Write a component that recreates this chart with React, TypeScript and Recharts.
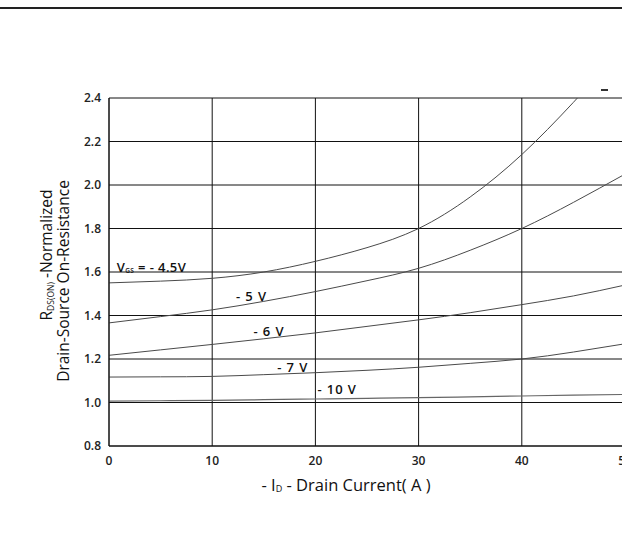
import { LineChart, Line, XAxis, YAxis, CartesianGrid, ReferenceDot, Label } from "recharts";

const current = [0, 5, 10, 15, 20, 25, 30, 35, 40, 45, 50];
const vgs45 = [1.55, 1.558, 1.571, 1.6, 1.649, 1.712, 1.8, 1.945, 2.14, 2.38, 2.64];
const vgs5 = [1.366, 1.395, 1.426, 1.465, 1.51, 1.56, 1.617, 1.7, 1.8, 1.92, 2.05];
const vgs6 = [1.217, 1.242, 1.267, 1.293, 1.32, 1.35, 1.38, 1.413, 1.45, 1.49, 1.54];
const vgs7 = [1.117, 1.118, 1.12, 1.128, 1.137, 1.148, 1.162, 1.18, 1.2, 1.232, 1.27];
const vgs10 = [1.006, 1.008, 1.01, 1.013, 1.016, 1.019, 1.022, 1.026, 1.03, 1.034, 1.037];

const xTicks = [0, 10, 20, 30, 40, 50];
const yTicks = [0.8, 1.0, 1.2, 1.4, 1.6, 1.8, 2.0, 2.2, 2.4];

// curve labels: [text, x, y] in data units
const curveLabels: [string, number, number][] = [
  ["4.5", 0.75, 1.623],
  ["- 5 V", 12.3, 1.49],
  ["- 6 V", 14.0, 1.329],
  ["- 7 V", 16.3, 1.163],
  ["- 10 V", 20.2, 1.062],
];

const data = current.map((c, i) => ({
  id: c,
  v45: vgs45[i],
  v5: vgs5[i],
  v6: vgs6[i],
  v7: vgs7[i],
  v10: vgs10[i],
}));

const font = "'Open Sans', 'Liberation Sans', sans-serif";
const curveColor = "#4a4a4a";

function CurveLabel({ viewBox, value }: any) {
  const { x, y } = viewBox;
  if (value === "4.5") {
    return (
      <text x={x} y={y} dominantBaseline="central" fontFamily={font} fontSize={13} fontWeight={600} fill="#111" letterSpacing={0.4}>
        V<tspan fontSize={6.5} dy={3}>GS</tspan>
        <tspan dy={-3}>{"  = - 4.5V"}</tspan>
      </text>
    );
  }
  return (
    <text x={x} y={y} dominantBaseline="central" fontFamily={font} fontSize={13} fontWeight={600} fill="#111" letterSpacing={0.9}>
      {value}
    </text>
  );
}

function YTitle() {
  return (
    <g fontFamily={font} fontSize={15.5} fill="#111">
      <text x={46} y={255} textAnchor="middle" dominantBaseline="central" transform="rotate(-90 46 255)">
        R<tspan fontSize={8.5} dy={4}>DS(ON)</tspan>
        <tspan dy={-4}>{"   -Normalized"}</tspan>
      </text>
      <text x={63} y={281} textAnchor="middle" dominantBaseline="central" transform="rotate(-90 63 281)">
        Drain-Source On-Resistance
      </text>
    </g>
  );
}

function XTitle() {
  return (
    <text x={346} y={484} textAnchor="middle" dominantBaseline="central" fontFamily={font} fontSize={16.5} fill="#111">
      - I<tspan fontSize={9} dy={4}>D</tspan>
      <tspan dy={-4}> - Drain Current( A )</tspan>
    </text>
  );
}

export default function App() {
  return (
    <div style={{ position: "absolute", left: 0, top: 0, width: 622, height: 554, overflow: "hidden", background: "#fff" }}>
      <div style={{ position: "absolute", left: 0, top: 7, width: 622, height: 2, background: "#222" }} />
      <div style={{ position: "absolute", left: 601, top: 89, width: 7, height: 2, background: "#333" }} />
      <LineChart width={641} height={554} data={data} margin={{ top: 98, right: 16, bottom: 78, left: 0 }}>
        <CartesianGrid stroke="#111" strokeWidth={1} />
        <XAxis
          dataKey="id"
          type="number"
          domain={[0, 50]}
          ticks={xTicks}
          tickLine={false}
          tickMargin={4}
          axisLine={{ stroke: "#111" }}
          tick={{ fontSize: 12, fontFamily: font, fill: "#222", fontWeight: 600 }}
        >
          <Label content={<XTitle />} />
        </XAxis>
        <YAxis
          type="number"
          width={109}
          domain={[0.8, 2.4]}
          ticks={yTicks}
          allowDataOverflow
          tickLine={false}
          axisLine={{ stroke: "#111" }}
          tickFormatter={(v: number) => v.toFixed(1)}
          tick={{ fontSize: 12, fontFamily: font, fill: "#222", fontWeight: 600 }}
        >
          <Label content={<YTitle />} />
        </YAxis>
        <Line dataKey="v45" type="natural" stroke={curveColor} strokeWidth={1} dot={false} isAnimationActive={false} />
        <Line dataKey="v5" type="natural" stroke={curveColor} strokeWidth={1} dot={false} isAnimationActive={false} />
        <Line dataKey="v6" type="natural" stroke={curveColor} strokeWidth={1} dot={false} isAnimationActive={false} />
        <Line dataKey="v7" type="natural" stroke={curveColor} strokeWidth={1} dot={false} isAnimationActive={false} />
        <Line dataKey="v10" type="natural" stroke="#666" strokeWidth={1.2} dot={false} isAnimationActive={false} />
        {curveLabels.map(([t, x, y]) => (
          <ReferenceDot key={t} x={x} y={y} r={0} stroke="none" fill="none" label={<CurveLabel value={t} />} />
        ))}
      </LineChart>
    </div>
  );
}
